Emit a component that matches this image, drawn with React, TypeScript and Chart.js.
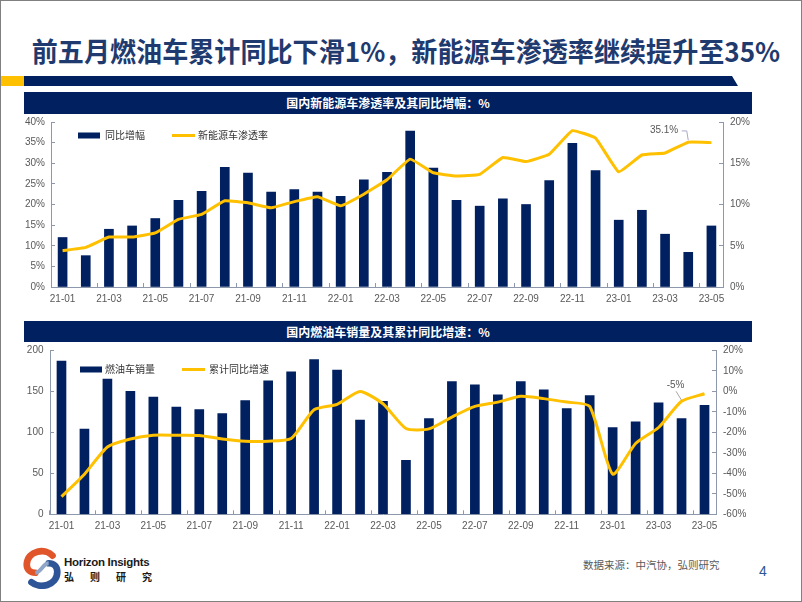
import React, { useEffect, useRef } from 'react';
import { Chart, registerables } from 'chart.js';

Chart.register(...registerables);
Chart.defaults.font.family = "'Liberation Sans', Arial, sans-serif";

const months = [
  '21-01', '21-02', '21-03', '21-04', '21-05', '21-06', '21-07', '21-08', '21-09', '21-10', '21-11', '21-12',
  '22-01', '22-02', '22-03', '22-04', '22-05', '22-06', '22-07', '22-08', '22-09', '22-10', '22-11', '22-12',
  '23-01', '23-02', '23-03', '23-04', '23-05',
];

// Chart 1: NEV penetration (left axis, %) and its YoY change (right axis, pp)
const nevYoY = [6.0, 3.8, 7.0, 7.4, 8.3, 10.5, 11.6, 14.5, 13.8, 11.5, 11.8, 11.5, 11.0, 13.0, 13.9, 18.9, 14.4, 10.5, 9.8, 10.7, 10.0, 12.9, 17.4, 14.1, 8.1, 9.3, 6.4, 4.2, 7.4];
const nevRate = [8.8, 9.6, 12.1, 12.1, 13.1, 16.4, 17.6, 20.9, 20.4, 19.2, 20.7, 21.9, 19.7, 22.5, 26.0, 31.0, 27.7, 26.9, 27.3, 31.4, 30.4, 32.2, 37.9, 36.1, 27.9, 32.0, 32.5, 35.1, 35.0];

// Chart 2: ICE sales (left axis) and cumulative YoY (right axis, %)
const iceSales = [187, 104, 165, 150, 143, 131, 128, 123, 139, 163, 174, 189, 176, 115, 138, 66, 117, 162, 158, 146, 162, 152, 129, 145, 106, 113, 136, 117, 133];
const iceCumYoY = [-51.4, -40.4, -27.1, -23.2, -21.4, -21.4, -21.5, -23.2, -24.3, -24.3, -23.0, -8.9, -6.3, 0.0, -6.0, -18.1, -18.3, -12.5, -7.3, -5.2, -2.4, -3.5, -5.2, -7.3, -40.4, -25.4, -17.6, -4.8, -1.1];

const NAVY = '#002060';
const GOLD = '#FFC000';
const AXIS = '#8e98ac';
const TICK_TEXT = '#595959';

const insideLegend = {
  id: 'insideLegend',
  afterDatasetsDraw(chart: any, _args: any, opts: any) {
    const { ctx, chartArea } = chart;
    let x = chartArea.left + opts.dx;
    const y = chartArea.top + opts.dy;
    ctx.save();
    ctx.font = "10px 'Noto Sans CJK SC', sans-serif";
    ctx.textBaseline = 'middle';
    ctx.textAlign = 'left';
    chart.data.datasets.forEach((ds: any) => {
      if (ds.type === 'bar') {
        ctx.fillStyle = ds.backgroundColor;
        ctx.fillRect(x, y - 3, 22, 6);
        x += 22 + opts.barGap;
      } else {
        ctx.strokeStyle = ds.borderColor;
        ctx.lineWidth = 3;
        ctx.beginPath();
        ctx.moveTo(x, y);
        ctx.lineTo(x + 23, y);
        ctx.stroke();
        x += 23 + opts.lineGap;
      }
      ctx.fillStyle = '#333333';
      ctx.fillText(ds.label, x, y);
      x += ctx.measureText(ds.label).width + 27;
    });
    ctx.restore();
  },
};

const callout = {
  id: 'callout',
  afterDatasetsDraw(chart: any, _args: any, opts: any) {
    if (!opts || !opts.text) return;
    const el = chart.getDatasetMeta(opts.datasetIndex).data[opts.index];
    const { x, y } = el;
    const { ctx } = chart;
    ctx.save();
    ctx.strokeStyle = opts.lineColor;
    ctx.lineWidth = 1;
    ctx.beginPath();
    opts.path.forEach((p: number[], i: number) => {
      if (i === 0) ctx.moveTo(x + p[0], y + p[1]);
      else ctx.lineTo(x + p[0], y + p[1]);
    });
    ctx.stroke();
    ctx.font = "10px 'Liberation Sans', Arial, sans-serif";
    ctx.fillStyle = TICK_TEXT;
    ctx.textAlign = opts.align;
    ctx.textBaseline = 'middle';
    ctx.fillText(opts.text, x + opts.tx, y + opts.ty);
    ctx.restore();
  },
};

const tickFont = { size: 10, family: "'Liberation Sans', Arial, sans-serif" };

function xAxis(height: number) {
  return {
    type: 'category',
    offset: true,
    grid: {
      display: true,
      drawOnChartArea: false,
      drawTicks: true,
      tickLength: -4,
      offset: true,
      color: (c: any) => (c.index % 2 === 0 ? AXIS : 'rgba(0,0,0,0)'),
    },
    border: { display: true, color: AXIS },
    ticks: {
      autoSkip: false,
      maxRotation: 0,
      minRotation: 0,
      padding: 10,
      color: TICK_TEXT,
      font: tickFont,
      callback: (_v: any, i: number) => (i % 2 === 0 ? months[i] : ''),
    },
    afterFit: (s: any) => {
      s.height = height;
      s.paddingLeft = 0;
      s.paddingRight = 0;
    },
  };
}

function yAxis(position: string, min: number, max: number, step: number, width: number, pad: number, fmt: (v: number) => string) {
  return {
    type: 'linear',
    position,
    min,
    max,
    grid: { display: true, drawOnChartArea: false, drawTicks: true, tickLength: -4, color: AXIS },
    border: { display: true, color: AXIS },
    ticks: { stepSize: step, padding: pad, color: TICK_TEXT, font: tickFont, callback: (v: any) => fmt(Number(v)) },
    afterFit: (s: any) => {
      s.width = width;
      s.paddingTop = 0;
      s.paddingBottom = 0;
    },
  };
}

function NevChart() {
  const ref = useRef<HTMLCanvasElement | null>(null);
  useEffect(() => {
    if (!ref.current) return;
    const chart = new Chart(ref.current, {
      type: 'bar',
      data: {
        labels: months,
        datasets: [
          { type: 'bar', label: '同比增幅', data: nevYoY, backgroundColor: NAVY, barThickness: 9, yAxisID: 'y1', order: 1 },
          { type: 'line', label: '新能源车渗透率', data: nevRate, borderColor: GOLD, backgroundColor: GOLD, borderWidth: 3, pointRadius: 0, tension: 0.1, yAxisID: 'y', order: 0 },
        ],
      } as any,
      options: {
        animation: false,
        responsive: false,
        layout: { padding: { top: 7, left: 0, right: 0, bottom: 0 } },
        plugins: {
          legend: { display: false },
          tooltip: { enabled: false },
          insideLegend: { dx: 27, dy: 13.5, barGap: 5, lineGap: 3 },
          callout: {
            datasetIndex: 1, index: 27, text: `${nevRate[27].toFixed(1)}%`, align: 'right', tx: -10, ty: -11.5,
            path: [[-6.5, -11.3], [-1.5, -11.3], [0, -2]], lineColor: '#a9a9c6',
          },
        } as any,
        scales: {
          x: xAxis(23),
          y: yAxis('left', 0, 40, 5, 41, 10, (v) => `${v}%`),
          y1: yAxis('right', 0, 20, 5, 37, 11, (v) => `${v}%`),
        } as any,
      },
      plugins: [insideLegend, callout],
    });
    return () => chart.destroy();
  }, []);
  return <canvas ref={ref} width={750} height={195} style={{ width: 750, height: 195, display: 'block' }} />;
}

function IceChart() {
  const ref = useRef<HTMLCanvasElement | null>(null);
  useEffect(() => {
    if (!ref.current) return;
    const chart = new Chart(ref.current, {
      type: 'bar',
      data: {
        labels: months,
        datasets: [
          { type: 'bar', label: '燃油车销量', data: iceSales, backgroundColor: NAVY, barThickness: 9, yAxisID: 'y', order: 1 },
          { type: 'line', label: '累计同比增速', data: iceCumYoY, borderColor: GOLD, backgroundColor: GOLD, borderWidth: 3, pointRadius: 0, tension: 0.2, yAxisID: 'y1', order: 0 },
        ],
      } as any,
      options: {
        animation: false,
        responsive: false,
        layout: { padding: { top: 7.5, left: 0, right: 0, bottom: 0 } },
        plugins: {
          legend: { display: false },
          tooltip: { enabled: false },
          insideLegend: { dx: 30, dy: 19, barGap: 3, lineGap: 4 },
          callout: {
            datasetIndex: 1, index: 27, text: `${Math.round(iceCumYoY[27])}%`, align: 'center', tx: -6, ty: -16,
            path: [[-5.5, -10], [0, -1]], lineColor: '#a6a6a6',
          },
        } as any,
        scales: {
          x: xAxis(23.7),
          y: yAxis('left', 0, 200, 50, 40, 10.5, (v) => `${v}`),
          y1: yAxis('right', -60, 20, 10, 44, 11, (v) => `${v}%`),
        } as any,
      },
      plugins: [insideLegend, callout],
    });
    return () => chart.destroy();
  }, []);
  return <canvas ref={ref} width={750} height={195} style={{ width: 750, height: 195, display: 'block' }} />;
}

const headerStyle: React.CSSProperties = {
  position: 'absolute',
  left: 23,
  width: 728,
  background: NAVY,
  color: '#ffffff',
  fontFamily: "'Noto Sans CJK SC', sans-serif",
  fontWeight: 700,
  fontSize: 12,
  textAlign: 'center',
};

export default function App() {
  return (
    <div
      style={{
        position: 'absolute',
        left: 0,
        top: 0,
        width: 802,
        height: 602,
        background: '#ffffff',
        border: '1px solid #808080',
        boxSizing: 'border-box',
        overflow: 'hidden',
      }}
    >
      <div
        style={{
          position: 'absolute',
          left: 5,
          top: 32,
          width: 800,
          textAlign: 'center',
          fontFamily: "'Noto Sans CJK SC', sans-serif",
          fontWeight: 700,
          fontSize: 27,
          lineHeight: '36px',
          color: '#1f3a6e',
          whiteSpace: 'nowrap',
          transform: 'scaleX(0.966)',
          transformOrigin: '50% 50%',
        }}
      >
        前五月燃油车累计同比下滑1%，新能源车渗透率继续提升至35%
      </div>
      <div style={{ position: 'absolute', left: 0, top: 75, width: 23, height: 10, background: GOLD }} />
      <div
        style={{
          position: 'absolute',
          left: 23,
          top: 75,
          width: 714,
          height: 10,
          background: NAVY,
          clipPath: 'polygon(0 0, calc(100% - 6px) 0, 100% 100%, 0 100%)',
        }}
      />
      <div style={{ ...headerStyle, top: 91, height: 22, lineHeight: '22px' }}>国内新能源车渗透率及其同比增幅：%</div>
      <div style={{ position: 'absolute', left: 9, top: 114 }}>
        <NevChart />
      </div>
      <div style={{ ...headerStyle, top: 320, height: 21, lineHeight: '21px' }}>国内燃油车销量及其累计同比增速：%</div>
      <div style={{ position: 'absolute', left: 9, top: 342 }}>
        <IceChart />
      </div>

      <svg style={{ position: 'absolute', left: 20, top: 546 }} width={42} height={42} viewBox="0 0 44 44">
        <path d="M33 9 C26 1 7 3 6 18 C6 24 10 27 15 27" stroke="#e0552a" strokeWidth={7} fill="none" strokeLinecap="round" />
        <path d="M11 37 C19 44 38 41 38 26 C38 20 34 17 29 17" stroke="#2e5597" strokeWidth={7} fill="none" strokeLinecap="round" />
        <path d="M15 27 C21 27 23 17 29 17" stroke="#8fa6c8" strokeWidth={4} fill="none" />
      </svg>
      <div
        style={{
          position: 'absolute',
          left: 63,
          top: 554,
          fontFamily: "'Liberation Sans', Arial, sans-serif",
          fontWeight: 700,
          fontSize: 11.5,
          lineHeight: '14px',
          color: '#1a1a1a',
          letterSpacing: -0.3,
          whiteSpace: 'nowrap',
        }}
      >
        Horizon Insights
      </div>
      <div
        style={{
          position: 'absolute',
          left: 63,
          top: 569,
          width: 88,
          display: 'flex',
          justifyContent: 'space-between',
          fontFamily: "'Noto Sans CJK SC', sans-serif",
          fontWeight: 700,
          fontSize: 10,
          lineHeight: '14px',
          color: '#1a1a1a',
        }}
      >
        <span>弘</span>
        <span>则</span>
        <span>研</span>
        <span>究</span>
      </div>
      <div
        style={{
          position: 'absolute',
          left: 582,
          top: 557,
          fontFamily: "'Noto Sans CJK SC', sans-serif",
          fontSize: 10.5,
          lineHeight: '14px',
          color: '#595959',
          whiteSpace: 'nowrap',
        }}
      >
        数据来源：中汽协，弘则研究
      </div>
      <div
        style={{
          position: 'absolute',
          left: 758,
          top: 562,
          fontFamily: "'Liberation Sans', Arial, sans-serif",
          fontSize: 14,
          lineHeight: '16px',
          color: '#2f5597',
        }}
      >
        4
      </div>
    </div>
  );
}
